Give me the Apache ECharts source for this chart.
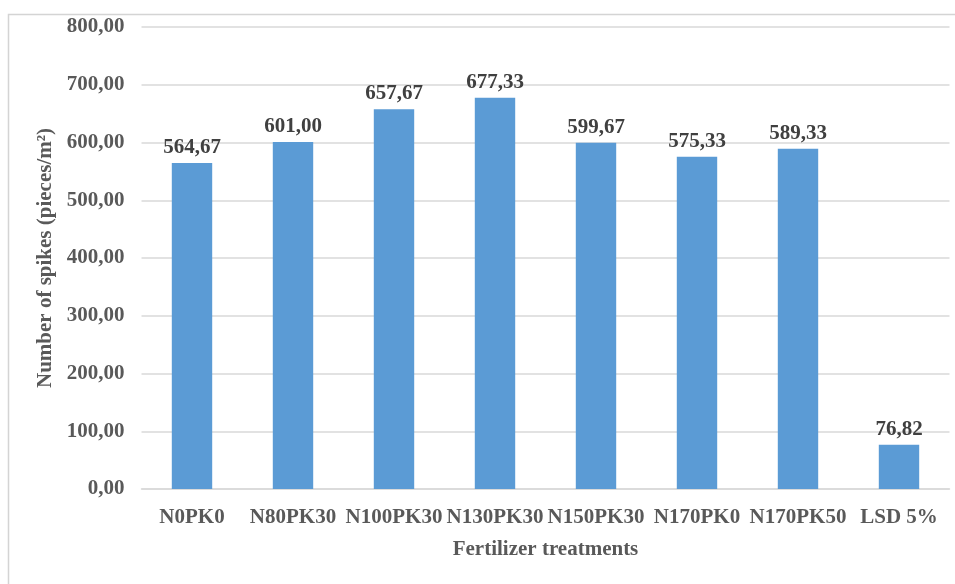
<!DOCTYPE html>
<html>
<head>
<meta charset="utf-8">
<script src="https://cdn.jsdelivr.net/npm/echarts@6/dist/echarts.min.js"></script>
<style>
  html, body { margin: 0; padding: 0; background: #fff; }
  #chart { width: 955px; height: 584px; }
</style>
</head>
<body>
<div id="chart"></div>
<script>
  // treatments and spike counts (pieces/m2)
  const categories = ['N0PK0', 'N80PK30', 'N100PK30', 'N130PK30', 'N150PK30', 'N170PK0', 'N170PK50', 'LSD 5%']
  const spikes = [564.67, 601.00, 657.67, 677.33, 599.67, 575.33, 589.33, 76.82]
  const yTicks = [0, 100, 200, 300, 400, 500, 600, 700, 800]

  const fmt = v => Number(v).toFixed(2).replace('.', ',')
  const serif = '"Liberation Serif", "Times New Roman", serif'

  const option = {
    animation: false,
    backgroundColor: '#fff',
    graphic: [
      {
        type: 'rect',
        shape: { x: 8.5, y: 14.5, width: 1000, height: 700 },
        style: { fill: 'none', stroke: '#d4d4d4', lineWidth: 1.5 },
        silent: true
      }
    ],
    grid: { left: 141.5, right: 5.5, top: 27, bottom: 95 },
    xAxis: {
      type: 'category',
      data: categories,
      name: 'Fertilizer treatments',
      nameLocation: 'middle',
      nameGap: 50,
      nameTextStyle: { fontFamily: serif, fontWeight: 'bold', fontSize: 21, color: '#595959' },
      axisLine: { lineStyle: { color: '#d9d9d9', width: 1.5 } },
      axisTick: { show: false },
      axisLabel: {
        interval: 0,
        margin: 18,
        fontFamily: serif, fontWeight: 'bold', fontSize: 21, color: '#595959'
      }
    },
    yAxis: {
      type: 'value',
      min: yTicks[0],
      max: yTicks[yTicks.length - 1],
      interval: 100,
      name: 'Number of spikes (pieces/m²)',
      nameLocation: 'middle',
      nameGap: 84,
      nameTextStyle: { fontFamily: serif, fontWeight: 'bold', fontSize: 21, color: '#595959' },
      axisLine: { show: false },
      axisTick: { show: false },
      splitLine: { lineStyle: { color: '#d9d9d9', width: 1.5 } },
      axisLabel: {
        margin: 17,
        formatter: fmt,
        fontFamily: serif, fontWeight: 'bold', fontSize: 21, color: '#595959'
      }
    },
    series: [
      {
        type: 'bar',
        data: spikes,
        barWidth: '40%',
        itemStyle: { color: '#5b9bd5' },
        label: {
          show: true,
          position: 'top',
          distance: 5,
          formatter: p => fmt(p.value),
          fontFamily: serif, fontWeight: 'bold', fontSize: 21, color: '#404040'
        }
      }
    ]
  }

  const chart = echarts.init(document.getElementById('chart'))
  chart.setOption(option)
  window.onresize = () => {
    chart.resize()
  }
</script>
</body>
</html>
